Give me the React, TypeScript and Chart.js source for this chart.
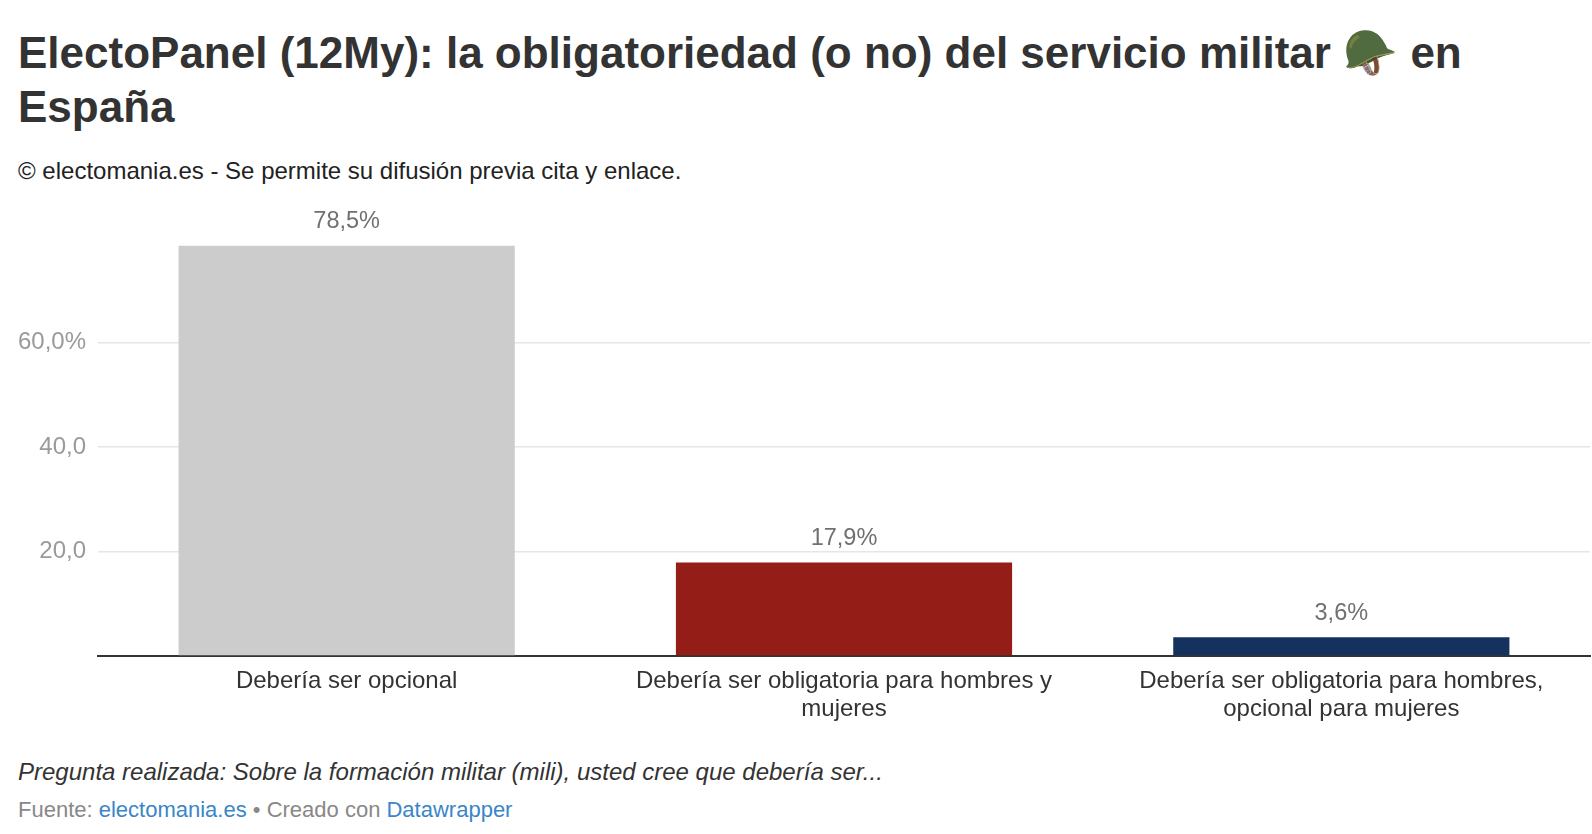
import React, { useEffect, useRef } from 'react';
import { Chart, registerables } from 'chart.js';

Chart.register(...registerables);

const categories: string[][] = [
  ['Debería ser opcional'],
  ['Debería ser obligatoria para hombres y', 'mujeres'],
  ['Debería ser obligatoria para hombres,', 'opcional para mujeres'],
];
const values = [78.5, 17.9, 3.6];
const barColors = ['#cccccc', '#941d17', '#15325f'];
const yTicks = [20, 40, 60];
const yTickLabels = ['20,0', '40,0', '60,0%'];

const FONT = '"Liberation Sans", Arial, Helvetica, sans-serif';

const fmt = (v: number) => v.toFixed(1).replace('.', ',') + '%';

// draws "78,5%" etc. above each bar
const valueLabels = {
  id: 'valueLabels',
  afterDatasetsDraw(chart: any) {
    const ctx = chart.ctx;
    const meta = chart.getDatasetMeta(0);
    ctx.save();
    ctx.font = `23.5px ${FONT}`;
    ctx.fillStyle = '#707070';
    ctx.textAlign = 'center';
    ctx.textBaseline = 'middle';
    meta.data.forEach((bar: any, i: number) => {
      ctx.fillText(fmt(values[i]), bar.x, bar.y - 24);
    });
    ctx.restore();
  },
};

const BarChart: React.FC = () => {
  const canvasRef = useRef<HTMLCanvasElement>(null);
  const chartRef = useRef<Chart | null>(null);

  useEffect(() => {
    if (!canvasRef.current) return;
    if (chartRef.current) chartRef.current.destroy();

    chartRef.current = new Chart(canvasRef.current, {
      type: 'bar',
      data: {
        labels: categories,
        datasets: [{
          data: values,
          backgroundColor: barColors,
          categoryPercentage: 1,
          barPercentage: 0.676,
        }],
      },
      options: {
        animation: false,
        responsive: true,
        maintainAspectRatio: false,
        layout: { padding: { top: 43, right: 2, left: 0, bottom: 0 } },
        plugins: {
          legend: { display: false },
          tooltip: { enabled: false },
        },
        scales: {
          x: {
            grid: { display: false, drawTicks: false },
            border: { display: true, color: '#333333', width: 2 },
            ticks: {
              color: '#333333',
              padding: 11,
              maxRotation: 0,
              autoSkip: false,
              font: { family: FONT, size: 24, lineHeight: 1.18 },
            },
            afterFit: (scale: any) => { scale.height = 69; },
          },
          y: {
            min: 0,
            max: 80,
            border: { display: false },
            grid: {
              drawTicks: false,
              color: (c: any) => (yTicks.includes(c.tick?.value) ? '#e6e6e6' : 'rgba(0,0,0,0)'),
              lineWidth: 1.5,
            },
            ticks: {
              stepSize: 20,
              padding: 12,
              color: '#9a9a9a',
              font: { family: FONT, size: 24 },
              callback: (v: any) => {
                const i = yTicks.indexOf(Number(v));
                return i >= 0 ? yTickLabels[i] : '';
              },
            },
            afterFit: (scale: any) => { scale.width = 98; },
          },
        },
      },
      plugins: [valueLabels],
    });

    return () => {
      if (chartRef.current) {
        chartRef.current.destroy();
        chartRef.current = null;
      }
    };
  }, []);

  return <canvas ref={canvasRef} />;
};

export default function App() {
  return (
    <div style={{ position: 'absolute', left: 0, top: 0, width: 1592, height: 834, background: '#fff', fontFamily: FONT, overflow: 'hidden' }}>
      <div style={{ position: 'absolute', left: 18, top: 26, right: 10, fontSize: 44, lineHeight: '54px', fontWeight: 700, color: '#333333' }}>
        ElectoPanel (12My): la obligatoriedad (o no) del servicio militar 🪖 en<br />España
      </div>
      <div style={{ position: 'absolute', left: 18, top: 157, fontSize: 24, lineHeight: '28px', color: '#222222' }}>
        © electomania.es - Se permite su difusión previa cita y enlace.
      </div>
      <div style={{ position: 'absolute', left: 0, top: 195, width: 1592, height: 530 }}>
        <BarChart />
      </div>
      <div style={{ position: 'absolute', left: 18, top: 758, fontSize: 24, lineHeight: '28px', fontStyle: 'italic', color: '#333333' }}>
        Pregunta realizada: Sobre la formación militar (mili), usted cree que debería ser...
      </div>
      <div style={{ position: 'absolute', left: 18, top: 797, fontSize: 22, lineHeight: '26px', color: '#888888' }}>
        Fuente: <span style={{ color: '#3a86c8' }}>electomania.es</span> • Creado con <span style={{ color: '#3a86c8' }}>Datawrapper</span>
      </div>
    </div>
  );
}
